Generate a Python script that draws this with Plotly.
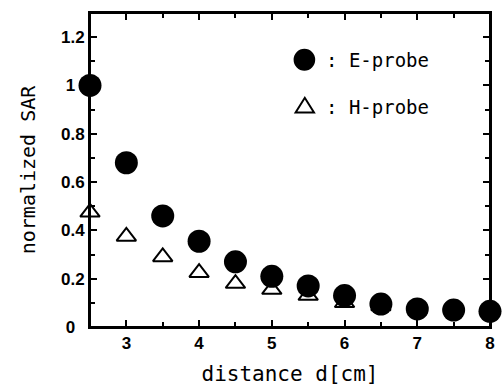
import plotly.graph_objects as go

distance = [2.5, 3, 3.5, 4, 4.5, 5, 5.5, 6, 6.5, 7, 7.5, 8]
e_probe = [1.0, 0.68, 0.46, 0.355, 0.27, 0.21, 0.17, 0.13, 0.095, 0.075, 0.07, 0.065]
h_probe = [0.475, 0.375, 0.29, 0.225, 0.18, 0.155, 0.13, 0.10, 0.087, 0.075, 0.075, 0.075]
x_ticks = [3, 4, 5, 6, 7, 8]
y_ticks = [0, 0.2, 0.4, 0.6, 0.8, 1.0, 1.2]
y_labels = ["0", "0.2", "0.4", "0.6", "0.8", "1", "1.2"]

pad = "<span style='color:rgba(0,0,0,0)'>0</span>"
y_text = ["<b>%s</b>" % t if len(t) > 1 else "<b>%s%s</b>" % (t, pad) for t in y_labels]

fig = go.Figure()
fig.add_trace(go.Scatter(x=distance, y=e_probe, mode="markers", name="E-probe",
                         marker=dict(symbol="circle", size=23, color="black"),
                         cliponaxis=False))
fig.add_trace(go.Scatter(x=distance, y=h_probe, mode="markers", name="H-probe",
                         marker=dict(symbol="triangle-up-open", size=17, color="black",
                                     line=dict(width=2, color="black")),
                         cliponaxis=False))

tickfont = dict(family="Liberation Sans, Arial", size=17, color="black")

fig.update_xaxes(range=[2.5, 8], tickvals=x_ticks, ticktext=["<b>%d</b>" % v for v in x_ticks],
                 ticks="inside", ticklen=7, tickwidth=2, tickcolor="black", mirror="ticks",
                 showline=True, linewidth=2, linecolor="black", showgrid=False, zeroline=False,
                 minor=dict(dtick=0.5, tick0=2.5, ticks="inside", ticklen=5, tickwidth=2, tickcolor="black"),
                 tickfont=tickfont,
                 title=dict(text="\u00a0distance d[cm]",
                            font=dict(family="DejaVu Sans Mono", size=21, color="black"), standoff=14))
fig.update_yaxes(range=[0, 1.3], tickvals=y_ticks, ticktext=y_text,
                 ticks="inside", ticklen=7, tickwidth=2, tickcolor="black", mirror="ticks",
                 showline=True, linewidth=2, linecolor="black", showgrid=False, zeroline=False,
                 minor=dict(dtick=0.1, tick0=0, ticks="inside", ticklen=5, tickwidth=2, tickcolor="black"),
                 tickfont=tickfont,
                 title=dict(text="normalized SAR",
                            font=dict(family="DejaVu Sans Mono", size=20, color="black"), standoff=20))

# plot frame
fig.add_shape(type="rect", xref="paper", yref="paper", x0=0, x1=1, y0=0, y1=1,
              line=dict(color="black", width=2), layer="above")

# legend drawn as shapes + text inside the plot
fig.add_shape(type="circle", xref="paper", yref="paper",
              x0=0.509, x1=0.563, y0=0.816, y1=0.886, fillcolor="black", line=dict(color="black", width=0))
fig.add_shape(type="path", xref="paper", yref="paper",
              path="M 0.514 0.683 L 0.560 0.683 L 0.537 0.730 Z",
              fillcolor="white", line=dict(color="black", width=2))
fig.add_annotation(xref="paper", yref="paper", x=0.585, y=0.850, text=": E-probe",
                   showarrow=False, xanchor="left", yanchor="middle",
                   font=dict(family="DejaVu Sans Mono", size=19, color="black"))
fig.add_annotation(xref="paper", yref="paper", x=0.585, y=0.702, text=": H-probe",
                   showarrow=False, xanchor="left", yanchor="middle",
                   font=dict(family="DejaVu Sans Mono", size=19, color="black"))

fig.update_layout(width=502, height=389, margin=dict(l=90, r=7, t=13, b=61),
                  plot_bgcolor="white", paper_bgcolor="white", showlegend=False)
fig.write_html("out.html", config={"displayModeBar": False},
               post_script="document.body.style.margin='0';document.body.style.overflow='hidden';")
